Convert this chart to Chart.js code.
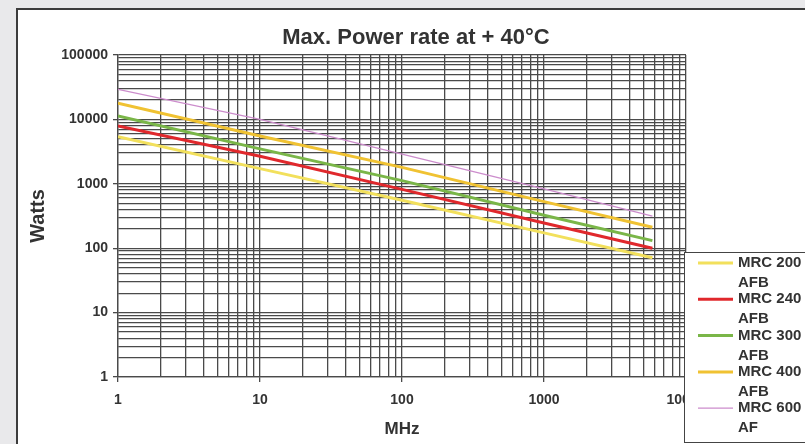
<!DOCTYPE html>
<html>
<head>
<meta charset="utf-8">
<script src="https://cdn.jsdelivr.net/npm/chart.js@4.4.1/dist/chart.umd.min.js"></script>
<style>
  html, body { margin: 0; padding: 0; background: #e9e9eb; overflow: hidden; }
  #panel { position: absolute; left: 16px; top: 8px; width: 820px; height: 460px; background: #fff;
           border-left: 2px solid #3c3c3c; border-top: 2px solid #3c3c3c; }
  #wrap { position: absolute; left: 0; top: 0; width: 805px; height: 444px; }
</style>
</head>
<body>
<div id="panel"></div>
<div id="wrap"><canvas id="powerChart"></canvas></div>
<script>
const chartTitle = 'Max. Power rate at + 40°C';
const frequencies = [1, 10, 100, 1000, 5800];
const seriesNames = ['MRC 200 AFB', 'MRC 240 AFB', 'MRC 300 AFB', 'MRC 400 AFB', 'MRC 600 AF'];
const mrc200 = [5400, 1720, 554, 173, 71];
const mrc240 = [7900, 2670, 820, 246, 100];
const mrc300 = [11300, 3490, 1120, 324, 131];
const mrc400 = [17800, 5520, 1800, 529, 211];
const mrc600 = [29300, 10000, 2900, 833, 316];
const xDecades = [1, 10, 100, 1000, 10000];
const yDecades = [1, 10, 100, 1000, 10000, 100000];

const seriesValues = [mrc200, mrc240, mrc300, mrc400, mrc600];
const seriesColors = ['#f2e05c', '#e0282c', '#7ab648', '#f0c232', '#cc8ccc'];
const seriesWidths = [3, 3, 3, 3, 1.3];
const fontFamily = '"Liberation Sans", Arial, sans-serif';
const gridColor = '#4a4a4a';

// 1..9 in every decade, plus the last decade
function logTicks(decades) {
    const out = [];
    for (let i = 0; i < decades.length - 1; i++) {
        for (let k = 1; k < 10; k++) out.push(decades[i] * k);
    }
    out.push(decades[decades.length - 1]);
    return out;
}

function wrapText(ctx, text, maxWidth) {
    const words = text.split(' ');
    const lines = [];
    let line = '';
    words.forEach(w => {
        const test = line ? line + ' ' + w : w;
        if (line && ctx.measureText(test).width > maxWidth) {
            lines.push(line);
            line = w;
        } else {
            line = test;
        }
    });
    if (line) lines.push(line);
    return lines;
}

const decor = {
    id: 'decor',
    afterDraw(chart) {
        const ctx = chart.ctx;
        ctx.save();
        // title
        ctx.font = 'bold 22px ' + fontFamily;
        ctx.fillStyle = '#333';
        ctx.textAlign = 'center';
        ctx.textBaseline = 'middle';
        ctx.fillText(chartTitle, 416, 38);

        // legend box
        const left = 684, top = 252, bottom = 442;
        ctx.fillStyle = '#fff';
        ctx.fillRect(left, top, chart.width - left + 10, bottom - top);
        ctx.strokeStyle = '#444';
        ctx.lineWidth = 1;
        ctx.strokeRect(left + 0.5, top + 0.5, chart.width - left + 10, bottom - top);

        ctx.font = 'bold 15px ' + fontFamily;
        ctx.textAlign = 'left';
        let y = top + 11;
        chart.data.datasets.forEach(ds => {
            ctx.strokeStyle = ds.borderColor;
            ctx.lineWidth = ds.borderWidth;
            ctx.beginPath();
            ctx.moveTo(698, y);
            ctx.lineTo(733, y);
            ctx.stroke();
            ctx.fillStyle = '#333';
            wrapText(ctx, ds.label, 70).forEach((t, i) => {
                ctx.fillText(t, 738, y + i * 20);
            });
            y += 36.3;
        });
        ctx.restore();
    }
};

const ctx = document.getElementById('powerChart').getContext('2d');

window.powerChart = new Chart(ctx, {
    type: 'line',
    data: {
        datasets: seriesNames.map((name, i) => ({
            label: name,
            data: frequencies.map((f, j) => ({ x: f, y: seriesValues[i][j] })),
            borderColor: seriesColors[i],
            backgroundColor: seriesColors[i],
            borderWidth: seriesWidths[i],
            pointRadius: 0,
            tension: 0,
            fill: false
        }))
    },
    options: {
        responsive: true,
        maintainAspectRatio: false,
        animation: false,
        layout: { padding: { top: 55, right: 119, bottom: 0, left: 0 } },
        plugins: {
            legend: { display: false },
            title: { display: false },
            tooltip: { enabled: false }
        },
        scales: {
            x: {
                type: 'logarithmic',
                min: 1,
                max: 10000,
                afterBuildTicks: scale => {
                    scale.ticks = logTicks(xDecades).map(v => ({ value: v }));
                },
                afterFit: scale => { scale.height = 67; },
                grid: {
                    color: gridColor,
                    lineWidth: 1.3,
                    tickLength: 5,
                    tickColor: c => xDecades.includes(c.tick && c.tick.value) ? gridColor : 'rgba(0,0,0,0)'
                },
                border: { color: gridColor, width: 1.3 },
                ticks: {
                    autoSkip: false,
                    maxRotation: 0,
                    padding: 10,
                    color: '#333',
                    font: { family: fontFamily, size: 14, weight: 'bold' },
                    callback: v => xDecades.includes(v) ? String(v) : ''
                },
                title: {
                    display: true,
                    text: 'MHz',
                    color: '#333',
                    font: { family: fontFamily, size: 17, weight: 'bold' },
                    padding: { top: 0, bottom: 4 }
                }
            },
            y: {
                type: 'logarithmic',
                min: 1,
                max: 100000,
                afterBuildTicks: scale => {
                    scale.ticks = logTicks(yDecades).map(v => ({ value: v }));
                },
                afterFit: scale => { scale.width = 118; },
                grid: {
                    color: gridColor,
                    lineWidth: 1.3,
                    tickLength: 5,
                    tickColor: c => yDecades.includes(c.tick && c.tick.value) ? gridColor : 'rgba(0,0,0,0)'
                },
                border: { color: gridColor, width: 1.3 },
                ticks: {
                    autoSkip: false,
                    padding: 5,
                    color: '#333',
                    font: { family: fontFamily, size: 14, weight: 'bold' },
                    callback: v => yDecades.includes(v) ? String(v) : ''
                },
                title: {
                    display: true,
                    text: 'Watts',
                    color: '#333',
                    font: { family: fontFamily, size: 20, weight: 'bold' },
                    padding: { top: 26, bottom: 0 }
                }
            }
        }
    },
    plugins: [decor]
});
</script>
</body>
</html>
